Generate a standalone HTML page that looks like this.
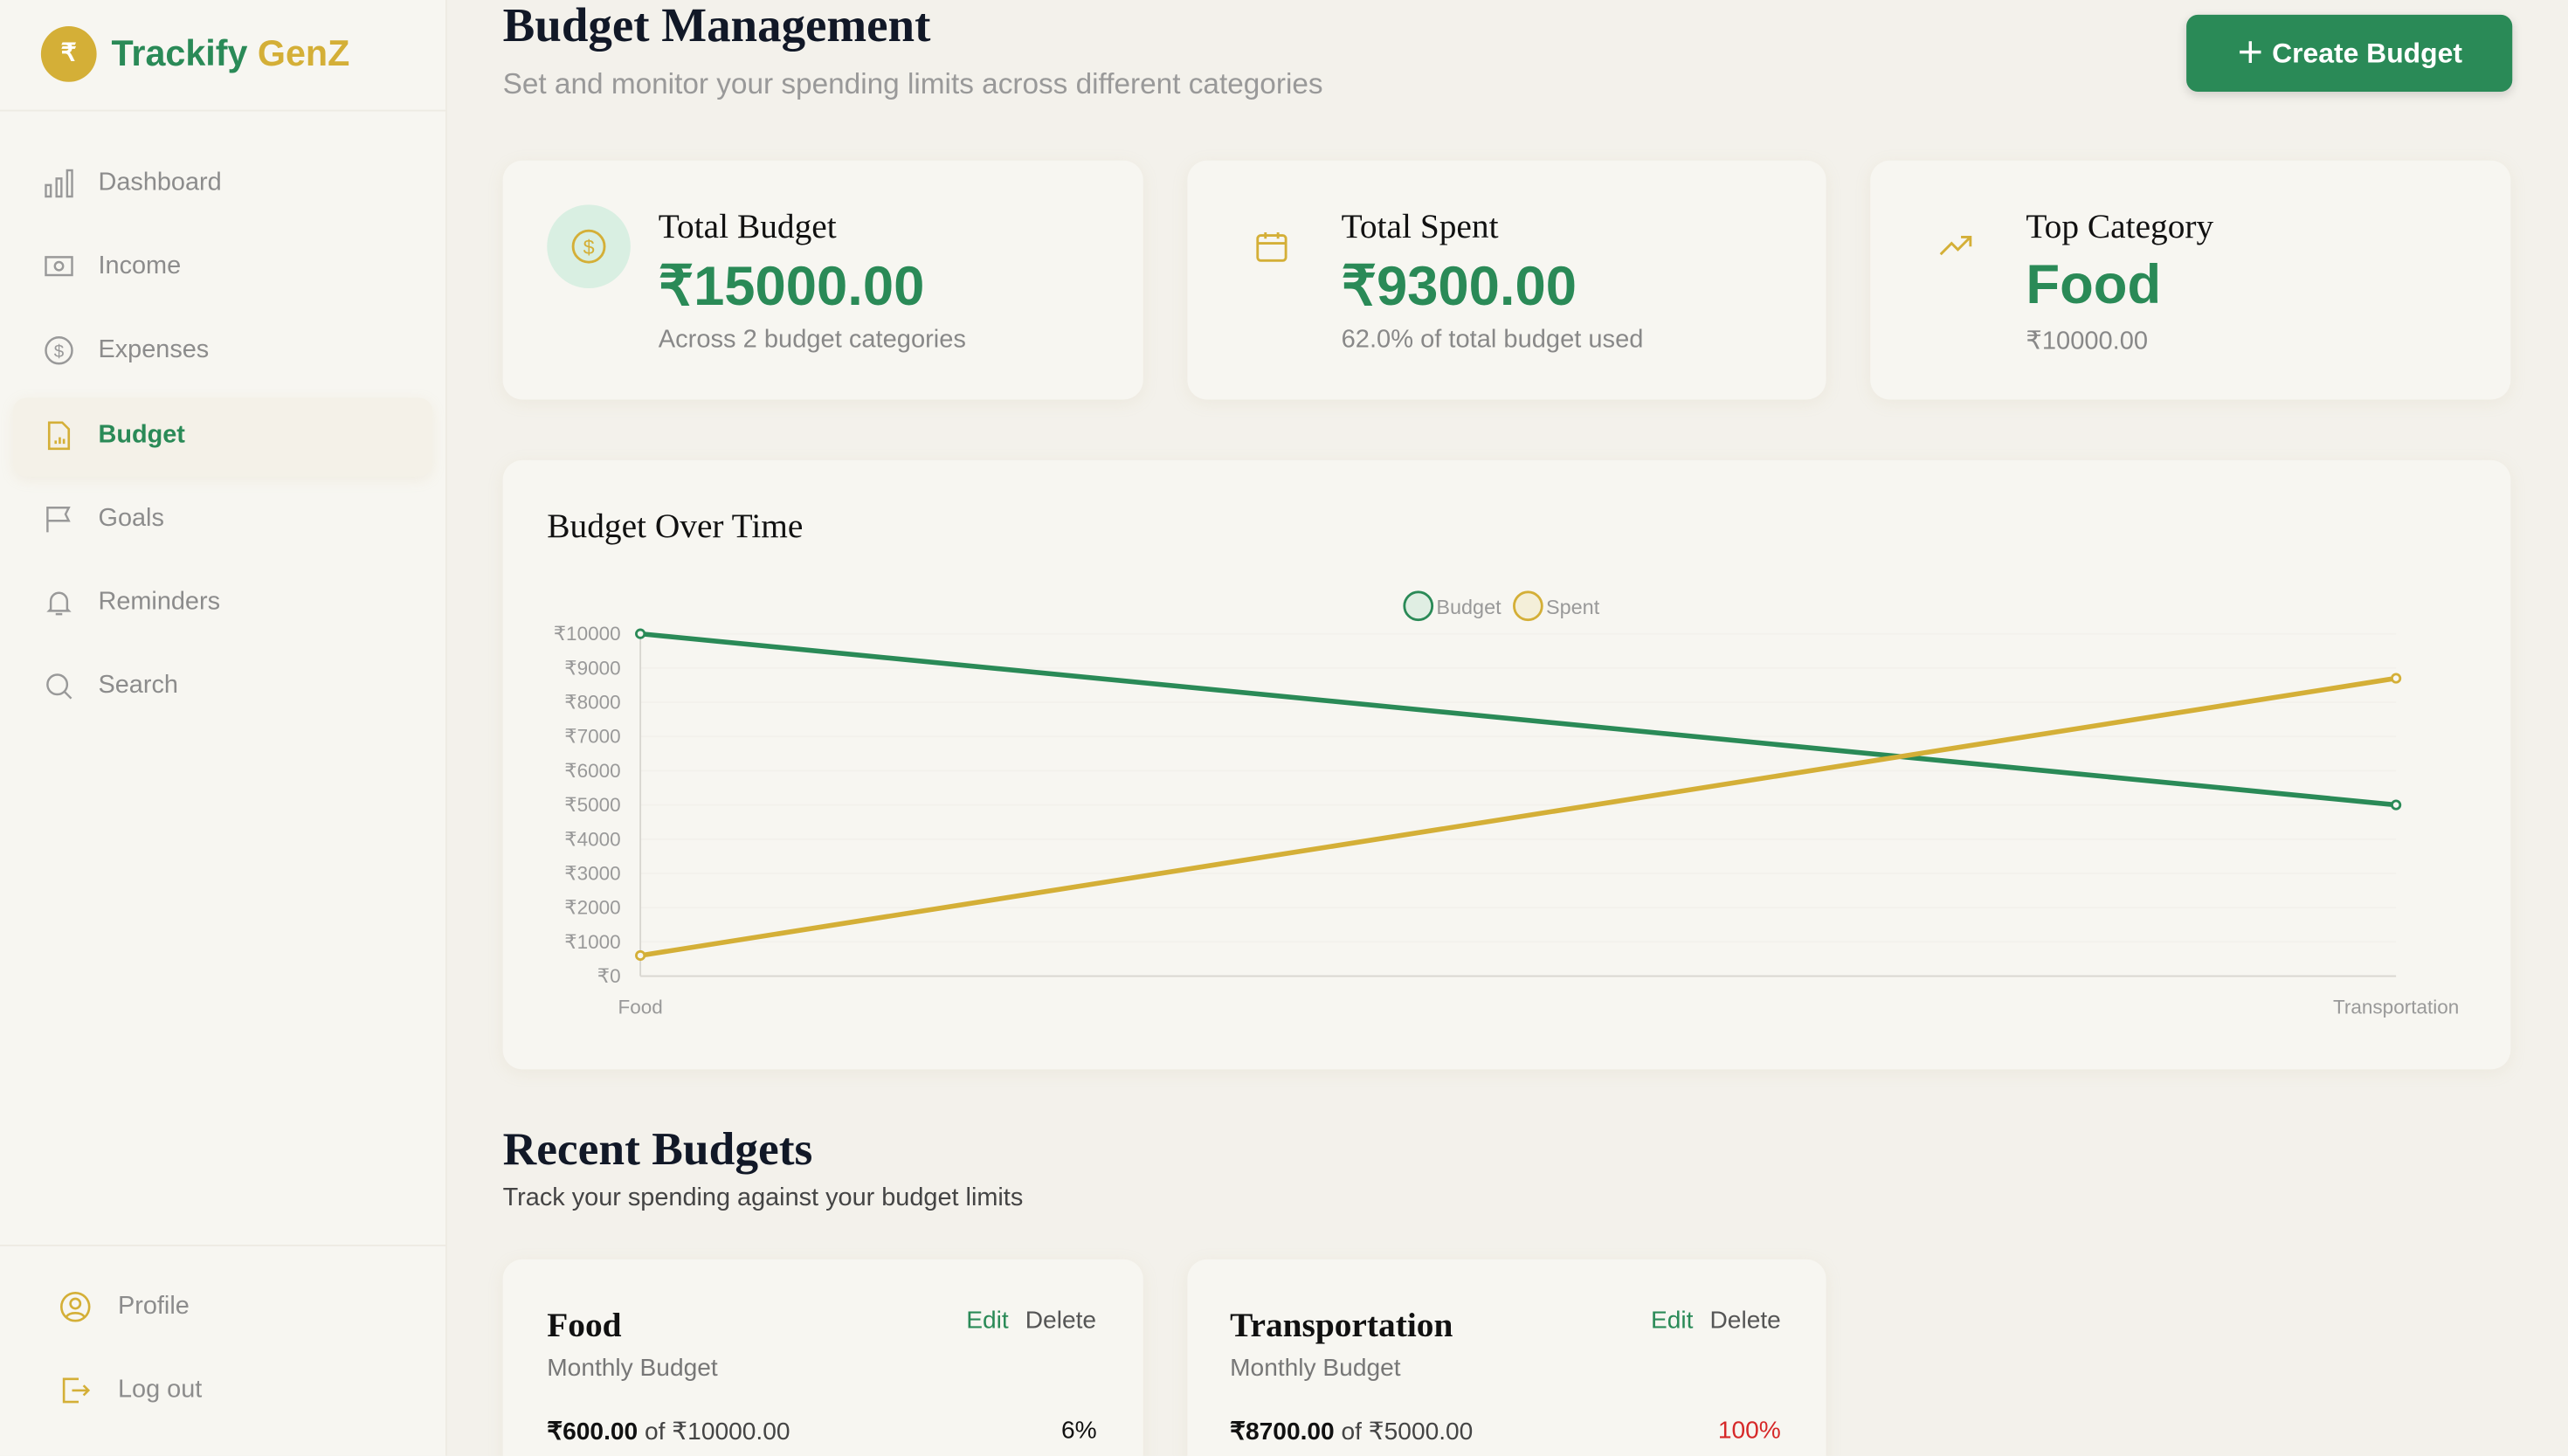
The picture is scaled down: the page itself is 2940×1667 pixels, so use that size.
<!DOCTYPE html>
<html><head><meta charset="utf-8">
<style>
html,body{margin:0;padding:0;width:2940px;height:1666px;overflow:hidden;background:#f3f1eb;}
#root{position:absolute;left:0;top:0;width:1568px;height:889px;transform:scale(1.875);transform-origin:0 0;font-family:"Liberation Sans",sans-serif;background:#f3f1eb;overflow:hidden;}
.abs{position:absolute;}
.side{left:0;top:0;width:272px;height:889px;background:#f7f6f1;border-right:1px solid #eeebe3;}
.nav{position:absolute;left:26px;font-size:15.4px;color:#8c8c8c;display:flex;align-items:center;gap:14px;}
.nav svg{width:20px;height:20px}
.card{position:absolute;background:#f7f6f1;border-radius:12px;box-shadow:0 2px 10px rgba(200,180,130,0.12);}
.serif{font-family:"Liberation Serif",serif;}
.ct{font-family:"Liberation Serif",serif;font-size:21px;color:#111;}
.big{font-size:33.8px;font-weight:bold;color:#2a8a57;}
.sub{font-size:15.5px;color:#888;}
</style></head><body>
<div id="root">
<div class="abs side">
  <div class="abs" style="left:25px;top:16px;width:34px;height:34px;border-radius:50%;background:#d4af37;color:#fff;font-weight:bold;font-size:15px;text-align:center;line-height:34px">₹</div>
  <div class="abs" style="left:68px;top:20px;font-size:22px;font-weight:bold;color:#2a8a57">Trackify <span style="color:#d4af37">GenZ</span></div>
  <div class="abs" style="left:0;top:67px;width:272px;height:1px;background:#eeebe3"></div>
  <div class="nav" style="top:102px"><svg viewBox="0 0 20 20" fill="none" stroke="#999" stroke-width="1.3"><rect x="2" y="11" width="3" height="7"/><rect x="8.5" y="7" width="3" height="11"/><rect x="15" y="2" width="3" height="16"/></svg>Dashboard</div>
  <div class="nav" style="top:153px"><svg viewBox="0 0 20 20" fill="none" stroke="#999" stroke-width="1.3"><rect x="2" y="4" width="16" height="11"/><circle cx="10" cy="9.5" r="2.5"/></svg>Income</div>
  <div class="nav" style="top:204px"><svg viewBox="0 0 20 20" fill="none" stroke="#999" stroke-width="1.3"><circle cx="10" cy="10" r="8"/><text x="10" y="14" font-size="11" text-anchor="middle" fill="#999" stroke="none">$</text></svg>Expenses</div>
  <div class="abs" style="left:8px;top:243px;width:256px;height:48px;background:#f4f1e8;border-radius:8px;box-shadow:0 2px 8px rgba(210,190,140,0.15)"></div>
  <div class="nav" style="top:256px;color:#2a8a57;font-weight:bold"><svg viewBox="0 0 20 20" fill="none" stroke="#d4af37" stroke-width="1.4"><path d="M4 2h8l4 4v12H4z"/><path d="M8 15v-2M10.5 15v-4M13 15v-3"/></svg>Budget</div>
  <div class="nav" style="top:307px"><svg viewBox="0 0 20 20" fill="none" stroke="#999" stroke-width="1.3"><path d="M3 18V3h13l-2 4 2 4H3"/></svg>Goals</div>
  <div class="nav" style="top:358px"><svg viewBox="0 0 20 20" fill="none" stroke="#999" stroke-width="1.3"><path d="M5 14V9a5 5 0 0110 0v5l1 1H4zM8 17h4"/></svg>Reminders</div>
  <div class="nav" style="top:409px"><svg viewBox="0 0 20 20" fill="none" stroke="#999" stroke-width="1.3"><circle cx="9" cy="9" r="6"/><path d="M13.5 13.5l4 4"/></svg>Search</div>
  <div class="abs" style="left:0;top:760px;width:272px;height:1px;background:#eeebe3"></div>
  <div class="nav" style="top:788px;left:36px;gap:16px"><svg viewBox="0 0 20 20" fill="none" stroke="#d4af37" stroke-width="1.4"><circle cx="10" cy="10" r="8.5"/><circle cx="10" cy="8" r="3"/><path d="M4.5 16c2-3 9-3 11 0"/></svg>Profile</div>
  <div class="nav" style="top:839px;left:36px;gap:16px"><svg viewBox="0 0 20 20" fill="none" stroke="#d4af37" stroke-width="1.4"><path d="M12 3H3v14h9M8 10h10M15 7l3 3-3 3"/></svg>Log out</div>
</div>

<div class="abs serif" style="left:307px;top:0px;font-size:29.3px;font-weight:bold;color:#111827">Budget Management</div>
<div class="abs" style="left:307px;top:41px;font-size:17.8px;color:#999">Set and monitor your spending limits across different categories</div>
<div class="abs" style="left:1335px;top:9px;width:199px;height:47px;background:#2a8a57;border-radius:7px;color:#fff;font-size:17px;font-weight:bold;line-height:47px;text-align:center;box-shadow:0 2px 6px rgba(0,0,0,0.15)">＋ Create Budget</div>

<div class="card" style="left:307px;top:98px;width:391px;height:146px">
  <div class="abs" style="left:27px;top:27px;width:51px;height:51px;border-radius:50%;background:#d9efe2"></div>
  <svg class="abs" style="left:41px;top:41px" width="23" height="23" viewBox="0 0 24 24" fill="none" stroke="#d4af37" stroke-width="1.6"><circle cx="12" cy="12" r="10"/><text x="12" y="17" font-size="13" text-anchor="middle" fill="#d4af37" stroke="none">$</text></svg>
  <div class="abs ct" style="left:95px;top:28px">Total Budget</div>
  <div class="abs big" style="left:95px;top:57px">₹15000.00</div>
  <div class="abs sub" style="left:95px;top:101px">Across 2 budget categories</div>
</div>
<div class="card" style="left:725px;top:98px;width:390px;height:146px">
  <svg class="abs" style="left:40px;top:41px" width="23" height="23" viewBox="0 0 24 24" fill="none" stroke="#d4af37" stroke-width="1.6"><rect x="3" y="5" width="18" height="16" rx="2"/><path d="M3 10h18M8 3v4M16 3v4"/></svg>
  <div class="abs ct" style="left:94px;top:28px">Total Spent</div>
  <div class="abs big" style="left:94px;top:57px">₹9300.00</div>
  <div class="abs sub" style="left:94px;top:101px">62.0% of total budget used</div>
</div>
<div class="card" style="left:1142px;top:98px;width:391px;height:146px">
  <svg class="abs" style="left:40px;top:41px" width="25" height="23" viewBox="0 0 24 24" fill="none" stroke="#d4af37" stroke-width="1.6"><path d="M2 17l7-7 4 4 8-8M15 6h6v6"/></svg>
  <div class="abs ct" style="left:95px;top:28px">Top Category</div>
  <div class="abs big" style="left:95px;top:57px">Food</div>
  <div class="abs sub" style="left:95px;top:101px">₹10000.00</div>
</div>

<div class="card" style="left:307px;top:281px;width:1226px;height:372px">
  <div class="abs ct" style="left:27px;top:28px">Budget Over Time</div>
</div>
<svg id="chart" class="abs" style="left:0;top:0" width="1568" height="889"></svg>

<div class="abs serif" style="left:307px;top:687px;font-size:28.5px;font-weight:bold;color:#111827">Recent Budgets</div>
<div class="abs" style="left:307px;top:723px;font-size:15.4px;color:#444">Track your spending against your budget limits</div>

<div class="card" style="left:307px;top:769px;width:391px;height:140px">
  <div class="abs ct" style="left:27px;top:28px;font-weight:bold">Food</div>
  <div class="abs" style="left:283px;top:29px;font-size:15px;color:#2a8a57">Edit</div>
  <div class="abs" style="left:319px;top:29px;font-size:15px;color:#555">Delete</div>
  <div class="abs" style="left:27px;top:58px;font-size:15px;color:#777">Monthly Budget</div>
  <div class="abs" style="left:27px;top:96px;font-size:15px;color:#444"><b style="color:#111">₹600.00</b> of ₹10000.00</div>
  <div class="abs" style="left:341px;top:96px;font-size:15px;color:#111">6%</div>
</div>
<div class="card" style="left:725px;top:769px;width:390px;height:140px">
  <div class="abs ct" style="left:26px;top:28px;font-weight:bold">Transportation</div>
  <div class="abs" style="left:283px;top:29px;font-size:15px;color:#2a8a57">Edit</div>
  <div class="abs" style="left:319px;top:29px;font-size:15px;color:#555">Delete</div>
  <div class="abs" style="left:26px;top:58px;font-size:15px;color:#777">Monthly Budget</div>
  <div class="abs" style="left:26px;top:96px;font-size:15px;color:#444"><b style="color:#111">₹8700.00</b> of ₹5000.00</div>
  <div class="abs" style="left:324px;top:96px;font-size:15px;color:#d62828">100%</div>
</div>
</div>
<script>
const categories=["Food","Transportation"];
const budgetValues=[10000,5000];
const spentValues=[600,8700];
const yTicks=[0,1000,2000,3000,4000,5000,6000,7000,8000,9000,10000];
const NS="http://www.w3.org/2000/svg";
const svg=document.getElementById('chart');
const x0=391,x1=1463,yb=596,yt=387,ymax=10000;
const xs=i=>x0+(x1-x0)*i/(categories.length-1);
const ys=v=>yb-(yb-yt)*v/ymax;
function mk(t,a){const e=document.createElementNS(NS,t);for(const k in a)e.setAttribute(k,a[k]);svg.appendChild(e);return e;}
yTicks.forEach(v=>{
  const g=mk('line',{x1:x0,x2:x1,y1:ys(v),y2:ys(v),stroke:v===0?'#d8d6d0':'#f3f1ec','stroke-width':1});
  
  
  const t=mk('text',{x:379,y:ys(v)+4,'text-anchor':'end','font-size':12,fill:'#999','font-family':'Liberation Sans, sans-serif'});
  t.textContent='₹'+v;
  
  
});
const ax=mk('line',{x1:x0,x2:x0,y1:yt,y2:yb,stroke:'#d8d6d0'});


categories.forEach((c,i)=>{
  const t=mk('text',{x:xs(i),y:619,'text-anchor':'middle','font-size':12,fill:'#999','font-family':'Liberation Sans, sans-serif'});
  t.textContent=c;
  
  
});
[[budgetValues,'#2a8a57','budget'],[spentValues,'#d4af37','spent']].forEach(([vals,col,nm])=>{
  const p=mk('polyline',{points:vals.map((v,i)=>xs(i)+','+ys(v)).join(' '),fill:'none',stroke:col,'stroke-width':3});
  
  
  vals.forEach((v,i)=>{
    const c=mk('circle',{cx:xs(i),cy:ys(v),r:2.5,fill:'#f7f6f1',stroke:col,'stroke-width':1.5});
    
    
  });
});
[['Budget','#2a8a57','#e0eee3',866],['Spent','#d4af37','#f4efd9',933]].forEach(([l,c,f,x])=>{
  const ci=mk('circle',{cx:x,cy:370,r:8.5,fill:f,stroke:c,'stroke-width':1.5});
  
  
  const t=mk('text',{x:x+11,y:375,'font-size':12.5,fill:'#999','font-family':'Liberation Sans, sans-serif'});
  t.textContent=l;
  
  
});
</script>
</body></html>
